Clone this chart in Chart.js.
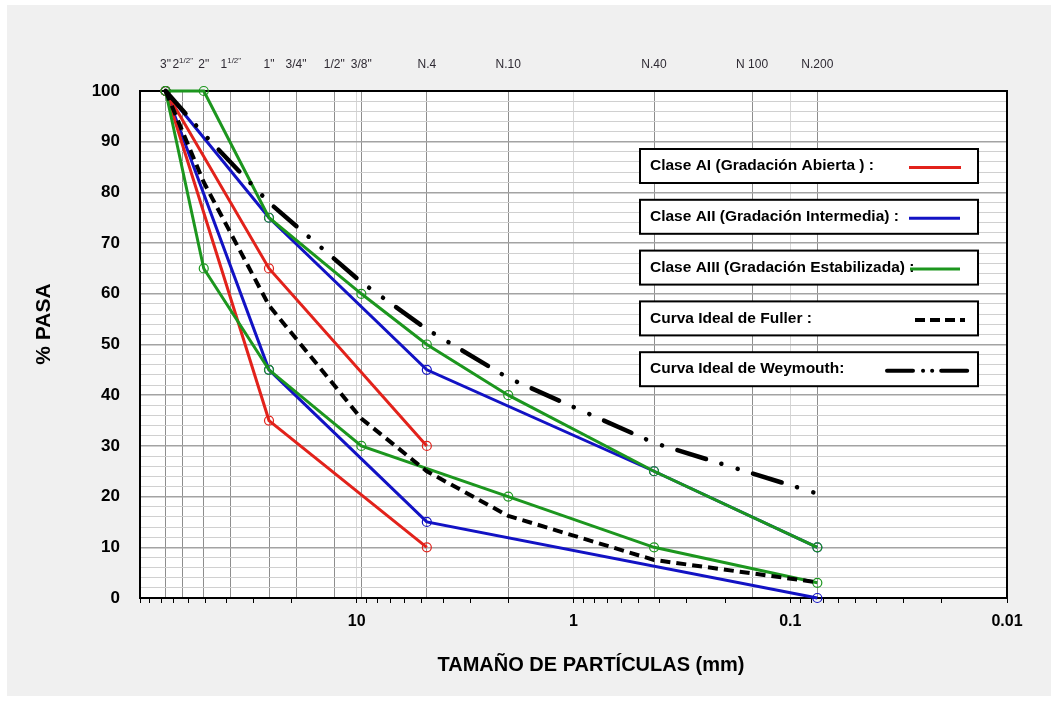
<!DOCTYPE html>
<html>
<head>
<meta charset="utf-8">
<script src="https://cdn.jsdelivr.net/npm/chart.js@4"></script>
<style>
  body { margin: 0; background: #ffffff; }
  #wrap { position: relative; width: 1058px; height: 701px; }
</style>
</head>
<body>
<div id="wrap"><canvas id="granChart"></canvas></div>
<script>
// Tamices (mm) y sus nombres en el eje superior
const sieveMM = [76.2, 63.5, 50.8, 38.1, 25.4, 19.05, 12.7, 9.525, 4.75, 2.0, 0.425, 0.15, 0.075];
const sieveLabels = ['3"', '2^1/2"', '2"', '1^1/2"', '1"', '3/4"', '1/2"', '3/8"', 'N.4', 'N.10', 'N.40', 'N 100', 'N.200'];

// Tamices donde hay datos: 3", 2", 1", 3/8", N.4, N.10, N.40, N.200
const dataMM = [76.2, 50.8, 25.4, 9.525, 4.75, 2.0, 0.425, 0.075];

// % que pasa (null = sin punto)
const claseAIsup = [100, null, 65, null, 30, null, null, null];
const claseAIinf = [100, null, 35, null, 10, null, null, null];
const claseAIIsup = [100, null, 75, null, 45, null, 25, 10];
const claseAIIinf = [100, null, 45, null, 15, null, null, 0];
const claseAIIIsup = [100, 100, 75, 60, 50, 40, 25, 10];
const claseAIIIinf = [100, 65, 45, 30, null, 20, 10, 3];
const fuller = [100, 82, 57.7, 35.4, 25, 16.2, 7.5, 3.1];
const weymouth = [100, 91.5, 78, 62.3, 53, 43.4, 30.6, 20.6];

// Eje inferior
const decades = [0.01, 0.1, 1, 10];
const minorSteps = [1, 2, 3, 4, 5, 6, 7, 8, 9];
const xTickValues = [10, 1, 0.1, 0.01];
const xTickLabels = ['10', '1', '0.1', '0.01'];
const yTickLabels = [0, 10, 20, 30, 40, 50, 60, 70, 80, 90, 100];

const legendTexts = [
  'Clase AI (Gradación Abierta ) :',
  'Clase AII (Gradación Intermedia) :',
  'Clase AIII (Gradación Estabilizada) :',
  'Curva Ideal de Fuller :',
  'Curva Ideal de Weymouth:'
];

const RED = '#e2221b';
const BLUE = '#1212c4';
const GREEN = '#1c961e';
const FONT = '"Liberation Sans", Arial, sans-serif';

const pts = function (values) {
  return dataMM
    .map((s, i) => (values[i] === null ? null : { x: s, y: values[i] }))
    .filter(Boolean);
};

const colored = function (label, values, color) {
  return {
    label: label,
    data: pts(values),
    borderColor: color,
    borderWidth: 3,
    pointRadius: 4.5,
    pointBorderWidth: 1.2,
    pointBorderColor: color,
    pointBackgroundColor: 'rgba(0,0,0,0)',
    clip: false,
  };
};

const datasets = [
  {
    label: 'Weymouth',
    data: pts(weymouth),
    borderColor: '#000',
    borderWidth: 4.5,
    borderDash: [30, 16, 0.1, 17, 0.1, 16],
    borderCapStyle: 'round',
    pointRadius: 0,
    clip: false,
  },
  {
    label: 'Fuller',
    data: pts(fuller),
    borderColor: '#000',
    borderWidth: 4,
    borderDash: [10, 6],
    pointRadius: 0,
    clip: false,
  },
  colored('AIII sup', claseAIIIsup, GREEN),
  colored('AIII inf', claseAIIIinf, GREEN),
  colored('AI sup', claseAIsup, RED),
  colored('AI inf', claseAIinf, RED),
  colored('AII sup', claseAIIsup, BLUE),
  colored('AII inf', claseAIIinf, BLUE),
];

const isDecade = (v) => Math.abs(Math.log10(v) - Math.round(Math.log10(v))) < 1e-9;

// Fondo, borde, títulos, etiquetas de tamices y leyenda
const decorPlugin = {
  id: 'decor',
  beforeDraw(chart) {
    const { ctx, chartArea: a } = chart;
    ctx.save();
    ctx.fillStyle = '#ffffff';
    ctx.fillRect(0, 0, chart.width, chart.height);
    ctx.fillStyle = '#f0f0f0';
    ctx.fillRect(7, 5, chart.width - 14, chart.height - 10);
    ctx.fillStyle = '#ffffff';
    ctx.fillRect(a.left, a.top, a.right - a.left, a.bottom - a.top);
    ctx.restore();
  },
  beforeDatasetsDraw(chart) {
    const { ctx, chartArea: a } = chart;
    ctx.save();
    ctx.strokeStyle = '#000';
    ctx.lineWidth = 2;
    ctx.strokeRect(a.left, a.top, a.right - a.left, a.bottom - a.top);
    ctx.restore();
  },
  afterDraw(chart) {
    const { ctx } = chart;
    const top = chart.scales.x2;
    ctx.save();

    // etiquetas de tamices
    ctx.fillStyle = '#2e2a33';
    ctx.textBaseline = 'alphabetic';
    ctx.textAlign = 'left';
    sieveMM.forEach((s, i) => {
      const [base, sup] = sieveLabels[i].split('^');
      const x = top.getPixelForValue(s);
      ctx.font = '12px ' + FONT;
      const wb = ctx.measureText(base).width;
      ctx.font = '8px ' + FONT;
      const ws = sup ? ctx.measureText(sup).width : 0;
      const left = x - (wb + ws) / 2;
      ctx.font = '12px ' + FONT;
      ctx.fillText(base, left, 68);
      if (sup) {
        ctx.font = '8px ' + FONT;
        ctx.fillText(sup, left + wb, 63);
      }
    });

    // títulos de ejes
    ctx.fillStyle = '#000';
    ctx.textAlign = 'center';
    ctx.textBaseline = 'middle';
    ctx.font = 'bold 20px ' + FONT;
    ctx.fillText('TAMAÑO DE PARTÍCULAS (mm)', 591, 665);
    ctx.save();
    ctx.translate(44, 324);
    ctx.rotate(-Math.PI / 2);
    ctx.font = 'bold 21px ' + FONT;
    ctx.fillText('% PASA', 0, 0);
    ctx.restore();

    // leyenda en cajas
    const samples = [
      { color: RED, dash: [], x0: 909, x1: 961, w: 3 },
      { color: BLUE, dash: [], x0: 909, x1: 960, w: 3 },
      { color: GREEN, dash: [], x0: 910, x1: 960, w: 3 },
      { color: '#000', dash: [10, 5], x0: 915, x1: 965, w: 4 },
      { color: '#000', dash: [26, 10, 0.1, 9, 0.1, 9], x0: 887, x1: 968, w: 4, cap: 'round' },
    ];
    legendTexts.forEach((t, i) => {
      const y0 = 149 + i * 50.8;
      ctx.fillStyle = '#fff';
      ctx.fillRect(640, y0, 338, 34);
      ctx.strokeStyle = '#000';
      ctx.lineWidth = 2;
      ctx.setLineDash([]);
      ctx.strokeRect(640, y0, 338, 34);
      ctx.fillStyle = '#000';
      ctx.font = 'bold 15.5px ' + FONT;
      ctx.textAlign = 'left';
      ctx.textBaseline = 'middle';
      ctx.fillText(t, 650, y0 + 17);
      const sm = samples[i];
      ctx.beginPath();
      ctx.strokeStyle = sm.color;
      ctx.lineWidth = sm.w;
      ctx.lineCap = sm.cap || 'butt';
      ctx.setLineDash(sm.dash);
      ctx.moveTo(sm.x0, y0 + 18.5);
      ctx.lineTo(sm.x1, y0 + 18.5);
      ctx.stroke();
    });
    ctx.restore();
  },
};

const config = {
  type: 'line',
  data: { datasets: datasets },
  options: {
    responsive: true,
    maintainAspectRatio: false,
    animation: false,
    layout: { padding: { left: 0, right: 51, top: 0, bottom: 0 } },
    plugins: { legend: { display: false }, tooltip: { enabled: false } },
    elements: { line: { tension: 0 } },
    scales: {
      x: {
        type: 'logarithmic',
        position: 'bottom',
        min: 0.01,
        max: 100,
        reverse: true,
        afterBuildTicks(scale) {
          const ticks = [];
          decades.forEach((d) => minorSteps.forEach((m) => ticks.push({ value: Number((m * d).toPrecision(3)) })));
          ticks.push({ value: 100 });
          scale.ticks = ticks;
        },
        afterFit(scale) { scale.height = 103; },
        ticks: {
          autoSkip: false,
          maxRotation: 0,
          padding: 9,
          color: '#000',
          font: { family: FONT, size: 16, weight: 'bold' },
          callback(value) {
            const i = xTickValues.indexOf(value);
            return i >= 0 ? xTickLabels[i] : '';
          },
        },
        grid: {
          color: (c) => (c.tick && isDecade(c.tick.value) && c.tick.value < 100 ? '#d6d6d6' : 'rgba(0,0,0,0)'),
          tickColor: '#000',
          tickLength: 5,
          lineWidth: 1,
        },
        border: { display: true, color: '#000', width: 2 },
      },
      x2: {
        type: 'logarithmic',
        position: 'top',
        min: 0.01,
        max: 100,
        reverse: true,
        afterBuildTicks(scale) {
          scale.ticks = sieveMM.map((s) => ({ value: s }));
        },
        afterFit(scale) { scale.height = 91; },
        ticks: { display: false },
        grid: { color: '#8e8e8e', lineWidth: 1, drawTicks: false },
        border: { display: true, color: '#000', width: 2 },
      },
      y: {
        type: 'linear',
        min: 0,
        max: 100,
        afterFit(scale) { scale.width = 140; },
        ticks: {
          stepSize: 2,
          autoSkip: false,
          padding: 20,
          color: '#000',
          font: { family: FONT, size: 17, weight: 'bold' },
          callback(value) {
            return yTickLabels.includes(value) ? String(value) : '';
          },
        },
        grid: {
          color: (c) => (c.tick && c.tick.value % 10 === 0 ? '#a3a3a3' : '#d0d0d0'),
          lineWidth: (c) => (c.tick && c.tick.value % 10 === 0 ? 1.5 : 1),
          drawTicks: false,
        },
        border: { display: true, color: '#000', width: 2 },
      },
    },
  },
  plugins: [decorPlugin],
};

new Chart(document.getElementById('granChart'), config);
</script>
</body>
</html>
